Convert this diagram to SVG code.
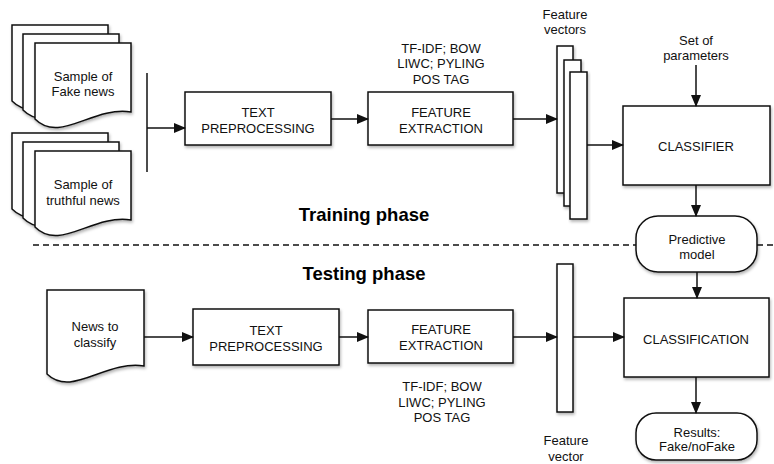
<svg xmlns="http://www.w3.org/2000/svg" width="774" height="464" viewBox="0 0 774 464">
<defs>
<style>
.s{fill:#fff;stroke:#111;stroke-width:1.5;filter:url(#sh)}
.t{font-family:"Liberation Sans",Arial,sans-serif;font-size:13px;fill:#111;text-anchor:middle}
.b{font-family:"Liberation Sans",Arial,sans-serif;font-size:18.5px;font-weight:bold;fill:#000;text-anchor:middle}
.c{fill:none;stroke:#111;stroke-width:1.5}
.a{marker-end:url(#ah)}
</style>
<filter id="sh" x="-10%" y="-10%" width="130%" height="130%">
<feDropShadow dx="1" dy="2" stdDeviation="1.5" flood-color="#000" flood-opacity="0.3"/>
</filter>
<marker id="ah" markerUnits="userSpaceOnUse" markerWidth="12" markerHeight="10" refX="11" refY="5" orient="auto">
<path d="M0,0 L12,5 L0,10 Z" fill="#111"/>
</marker>
<path id="doc" d="M0,0 H96 V69 C57,63 25,101 0,76 Z"/>
<path id="doc2" d="M0,0 H97 V76 C58,70 25,108 0,84 Z"/>
</defs>

<g id="fake-news">
<use href="#doc" class="s" x="12" y="25"/>
<use href="#doc" class="s" x="23" y="34"/>
<use href="#doc" class="s" x="35" y="43"/>
<text class="t" x="83" y="81">Sample of</text>
<text class="t" x="83" y="96">Fake news</text>
</g>

<g id="truthful-news">
<use href="#doc" class="s" x="12" y="133"/>
<use href="#doc" class="s" x="23" y="142"/>
<use href="#doc" class="s" x="35" y="151"/>
<text class="t" x="83" y="189">Sample of</text>
<text class="t" x="83" y="205">truthful news</text>
</g>

<g id="text-prep-train">
<rect class="s" x="185" y="92" width="146" height="53"/>
<text class="t" x="258" y="117">TEXT</text>
<text class="t" x="258" y="133">PREPROCESSING</text>
</g>

<g id="feat-ext-train">
<rect class="s" x="368" y="92" width="145" height="53"/>
<text class="t" x="441" y="117">FEATURE</text>
<text class="t" x="441" y="133">EXTRACTION</text>
<text class="t" x="441" y="53">TF-IDF; BOW</text>
<text class="t" x="441" y="68">LIWC; PYLING</text>
<text class="t" x="441" y="84">POS TAG</text>
</g>

<g id="feature-vectors">
<rect class="s" x="557" y="46" width="16" height="147"/>
<rect class="s" x="564" y="60" width="17" height="146"/>
<rect class="s" x="570" y="72" width="17" height="147"/>
<text class="t" x="565" y="19">Feature</text>
<text class="t" x="565" y="34">vectors</text>
</g>

<g id="parameters">
<text class="t" x="696" y="45">Set of</text>
<text class="t" x="696" y="60">parameters</text>
</g>

<g id="classifier">
<rect class="s" x="623" y="106" width="147" height="79"/>
<text class="t" x="696" y="151">CLASSIFIER</text>
</g>

<g id="predictive-model">
<rect class="s" x="636" y="216" width="121" height="56" rx="22"/>
<text class="t" x="697" y="244">Predictive</text>
<text class="t" x="697" y="259">model</text>
</g>

<g id="phase-labels">
<text class="b" x="364" y="221">Training phase</text>
<text class="b" x="364" y="280">Testing phase</text>
</g>

<g id="news-to-classify">
<use href="#doc2" class="s" x="47" y="290"/>
<text class="t" x="95" y="331">News to</text>
<text class="t" x="95" y="347">classify</text>
</g>

<g id="text-prep-test">
<rect class="s" x="193" y="309" width="146" height="56"/>
<text class="t" x="266" y="335">TEXT</text>
<text class="t" x="266" y="351">PREPROCESSING</text>
</g>

<g id="feat-ext-test">
<rect class="s" x="368" y="310" width="145" height="53"/>
<text class="t" x="441" y="334">FEATURE</text>
<text class="t" x="441" y="350">EXTRACTION</text>
<text class="t" x="442" y="391">TF-IDF; BOW</text>
<text class="t" x="442" y="407">LIWC; PYLING</text>
<text class="t" x="442" y="422">POS TAG</text>
</g>

<g id="feature-vector">
<rect class="s" x="557" y="264" width="16" height="148"/>
<text class="t" x="566" y="445">Feature</text>
<text class="t" x="566" y="461">vector</text>
</g>

<g id="classification">
<rect class="s" x="624" y="298" width="145" height="79"/>
<text class="t" x="696" y="344">CLASSIFICATION</text>
</g>

<g id="results">
<rect class="s" x="636" y="413" width="121" height="47" rx="20"/>
<text class="t" x="697" y="437">Results:</text>
<text class="t" x="697" y="451">Fake/noFake</text>
</g>

<g id="connectors">
<line class="c" x1="147" y1="73" x2="147" y2="172"/>
<line class="c a" x1="147" y1="128" x2="185" y2="128"/>
<line class="c a" x1="331" y1="119" x2="368" y2="119"/>
<line class="c a" x1="513" y1="119" x2="557" y2="119"/>
<line class="c a" x1="587" y1="145" x2="623" y2="145"/>
<line class="c a" x1="696" y1="65" x2="696" y2="106"/>
<line class="c a" x1="696" y1="185" x2="696" y2="216"/>
<line class="c" x1="33" y1="245" x2="636" y2="245" stroke-dasharray="6,4"/>
<line class="c" x1="757" y1="245" x2="774" y2="245" stroke-dasharray="6,4"/>
<line class="c a" x1="144" y1="337" x2="193" y2="337"/>
<line class="c a" x1="339" y1="337" x2="368" y2="337"/>
<line class="c a" x1="513" y1="337" x2="557" y2="337"/>
<line class="c a" x1="573" y1="337" x2="624" y2="337"/>
<line class="c a" x1="697" y1="272" x2="697" y2="298"/>
<line class="c a" x1="696" y1="377" x2="696" y2="413"/>
</g>
</svg>
